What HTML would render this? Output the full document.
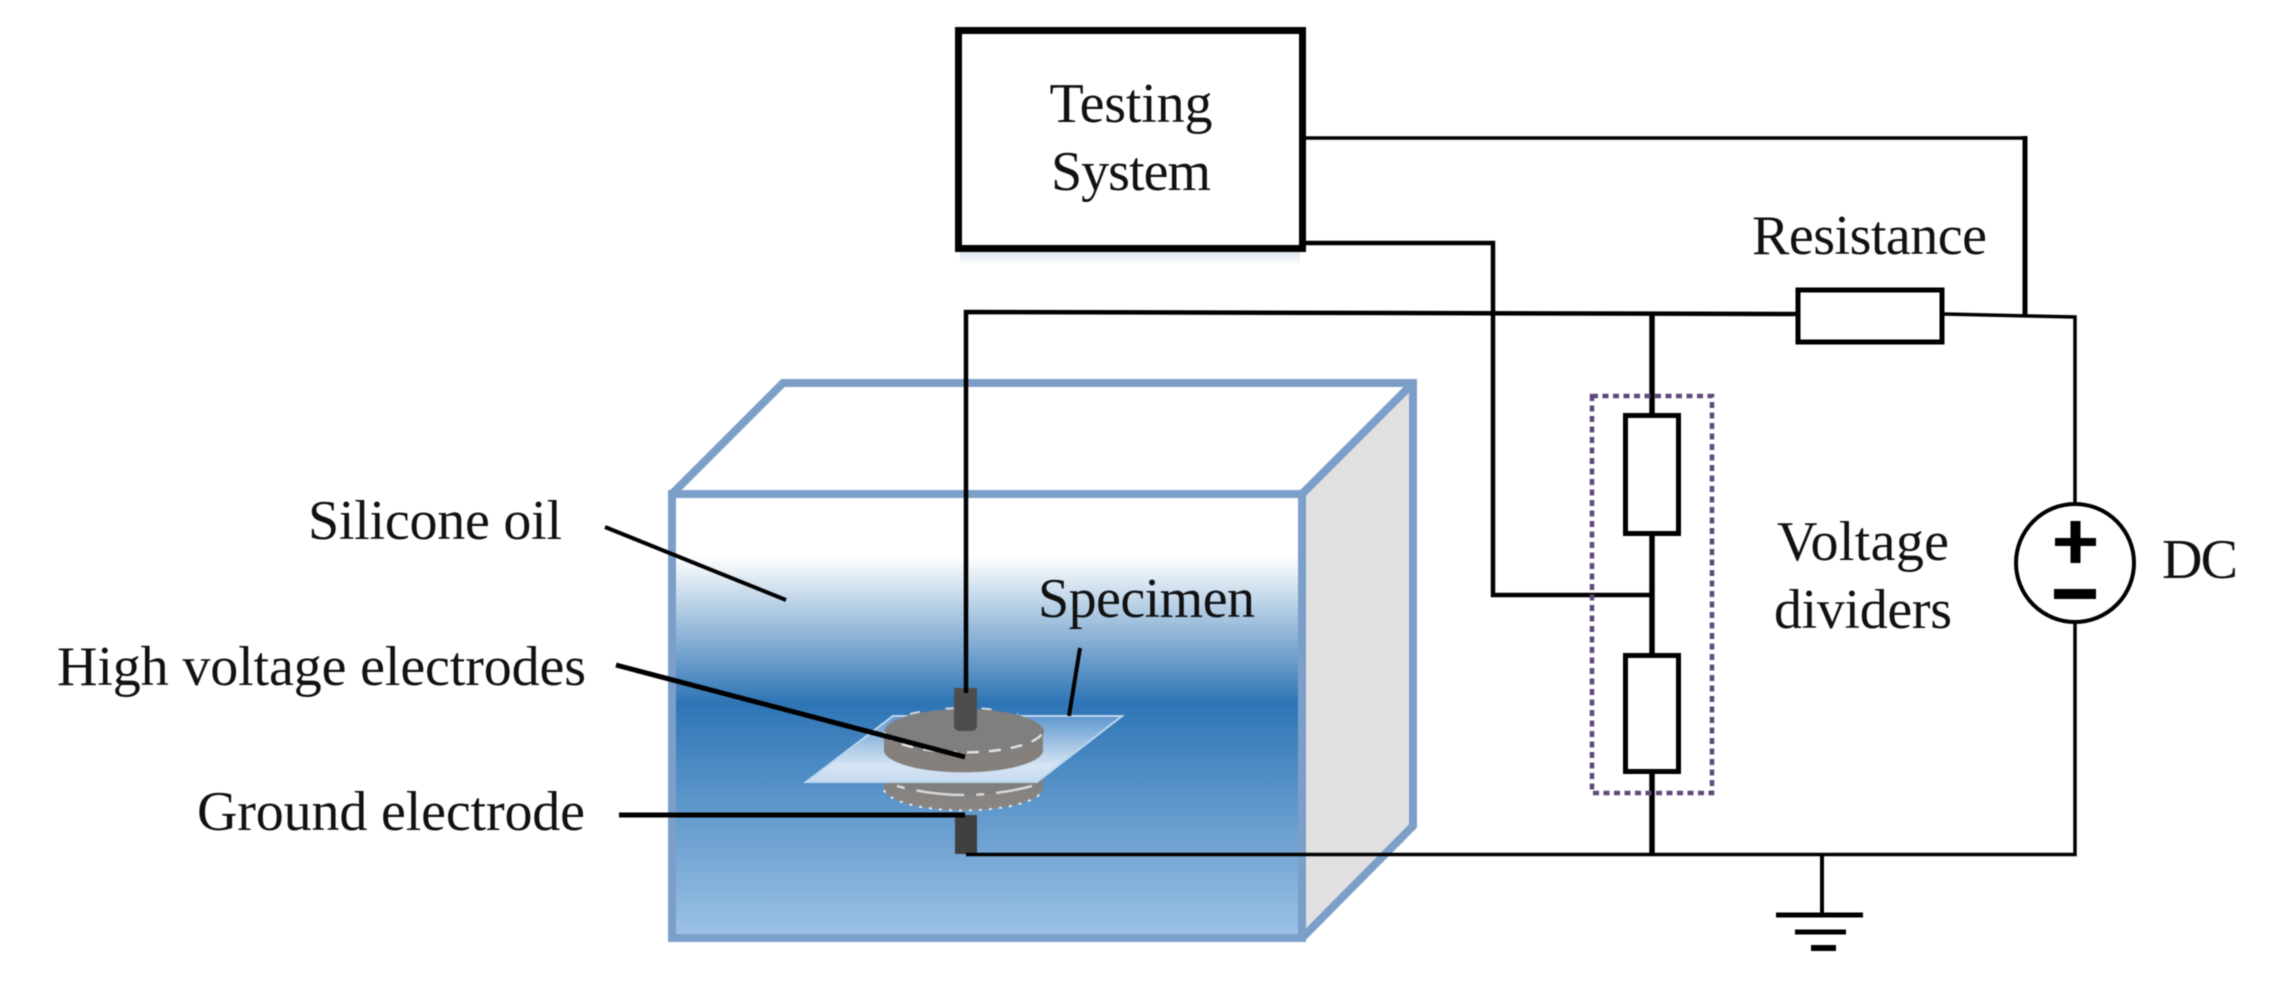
<!DOCTYPE html>
<html><head><meta charset="utf-8"><style>
html,body{margin:0;padding:0;background:#fff;width:2274px;height:988px;overflow:hidden}
svg{display:block;filter:blur(.6px)}
text{font-family:"Liberation Serif",serif;font-size:56px;fill:#111}
</style></head><body>
<svg width="2274" height="988" viewBox="0 0 2274 988" xmlns="http://www.w3.org/2000/svg">
<defs>
<linearGradient id="oil" x1="0" y1="0" x2="0" y2="1">
<stop offset="0" stop-color="#fff"/><stop offset=".14" stop-color="#fff"/>
<stop offset=".47" stop-color="#2e75b6"/><stop offset="1" stop-color="#9dc3e6"/>
</linearGradient>
<linearGradient id="spec" x1="0" y1="0" x2="0" y2="1">
<stop offset="0" stop-color="#5f98cf"/><stop offset=".75" stop-color="#d6e5f4"/><stop offset="1" stop-color="#c5daee"/>
</linearGradient>
<linearGradient id="shadow" x1="0" y1="0" x2="0" y2="1">
<stop offset="0" stop-color="#dbe6f2"/><stop offset="1" stop-color="#fff"/>
</linearGradient>
<linearGradient id="lid" x1="0" y1="0" x2="0" y2="1">
<stop offset="0" stop-color="#7f7f7f"/><stop offset="1" stop-color="#8b8682"/>
</linearGradient>
</defs>

<!-- tank -->
<polygon points="1302,494 1413,383 1413,826 1302,938" fill="#e1e1e1"/>
<rect x="672" y="494" width="630" height="444" fill="url(#oil)"/>
<g fill="none" stroke="#7c9fc9" stroke-width="8">
<rect x="672" y="494" width="630" height="444"/>
<polyline points="672,494 783,383 1413,383 1413,826 1302,938"/>
<line x1="1302" y1="494" x2="1413" y2="383"/>
</g>

<!-- bottom electrode -->
<path d="M884,772 V790 A80,23 0 0 0 1043,790 V772 Z" fill="url(#lid)"/>
<ellipse cx="964" cy="772" rx="80" ry="23" fill="#7f7f7f"/>
<path d="M884,790 A80,23 0 0 0 1043,790" fill="none" stroke="#e8e8e8" stroke-width="2" stroke-dasharray="3 7"/>
<path d="M897,786 Q964,804 1032,786" fill="none" stroke="#d8d8d8" stroke-width="2.5" stroke-dasharray="8 12 48 12"/>

<!-- specimen -->
<polygon points="893,716 1122,716 1037,782 806,782" fill="url(#spec)" stroke="#bdd7ee" stroke-width="2"/>

<!-- top electrode -->
<path d="M884,732 V752 A80,23 0 0 0 1043,752 V732 Z" fill="#85807c"/>
<ellipse cx="964" cy="732" rx="80" ry="23" fill="#7f7f7f"/>
<path d="M884,732 A80,23 0 0 0 1043,732" fill="none" stroke="#e0e0e0" stroke-width="2.5" stroke-dasharray="12 10"/>
<path d="M910,714 A80,23 0 0 1 1018,714" fill="none" stroke="#d8d8d8" stroke-width="2" stroke-dasharray="10 26"/>

<!-- rods -->
<path d="M954,688 H977 V725 Q977,731 971,731 H960 Q954,731 954,725 Z" fill="#4d4d4d"/>
<rect x="955" y="815" width="22" height="39" fill="#404040"/>

<!-- testing box -->
<rect x="960" y="252" width="340" height="13" fill="url(#shadow)"/>
<rect x="958.5" y="30.5" width="344" height="218" fill="#fff" stroke="#000" stroke-width="7"/>

<!-- wires -->
<g fill="none" stroke="#000" stroke-linejoin="miter">
<polyline points="966,693 966,312 1796,314" stroke-width="4.5"/>
<polyline points="1306,138 2025,138" stroke-width="3.5"/>
<line x1="2025" y1="136" x2="2025" y2="317" stroke-width="5"/>
<polyline points="1306,243 1493,243 1493,595 1652,595" stroke-width="4.5"/>
<polyline points="1944,314 2075,317 2075,505" stroke-width="3.5"/>
<polyline points="2075,621 2075,854.5 966,854.5" stroke-width="3.5"/>
<line x1="1652" y1="314" x2="1652" y2="856" stroke-width="5.5"/>
<line x1="1822" y1="854" x2="1822" y2="915" stroke-width="4"/>
<!-- leaders -->
<line x1="605" y1="527" x2="786" y2="600" stroke-width="4"/>
<line x1="616" y1="665" x2="965" y2="757" stroke-width="5"/>
<line x1="619" y1="815" x2="965" y2="815" stroke-width="5"/>
<line x1="1069" y1="716" x2="1080" y2="648" stroke-width="4"/>
</g>

<!-- ground bars -->
<rect x="1776" y="912.5" width="87" height="5"/>
<rect x="1795" y="929.5" width="51" height="5"/>
<rect x="1811" y="945" width="25" height="6"/>

<!-- resistors -->
<rect x="1798" y="290" width="144" height="52" fill="#fff" stroke="#000" stroke-width="5"/>
<rect x="1625.5" y="415.5" width="53" height="118" fill="#fff" stroke="#000" stroke-width="5"/>
<rect x="1625.5" y="655.5" width="53" height="116" fill="#fff" stroke="#000" stroke-width="5"/>

<!-- dashed -->
<rect x="1592" y="396" width="120" height="397" fill="none" stroke="#5f497a" stroke-width="4.5" stroke-dasharray="6 4.5"/>

<!-- DC source -->
<circle cx="2075" cy="563" r="59" fill="#fff" stroke="#000" stroke-width="4"/>
<rect x="2055" y="538" width="41" height="8"/>
<rect x="2070.5" y="521" width="10" height="42"/>
<rect x="2054" y="589" width="42" height="10"/>

<!-- labels -->
<text x="1131" y="122" text-anchor="middle" textLength="163" lengthAdjust="spacing">Testing</text>
<text x="1131" y="190" text-anchor="middle" textLength="160" lengthAdjust="spacing">System</text>
<text x="1752" y="254" textLength="235" lengthAdjust="spacing">Resistance</text>
<text x="308" y="539" textLength="254" lengthAdjust="spacing">Silicone oil</text>
<text x="1038" y="617" textLength="217" lengthAdjust="spacing">Specimen</text>
<text x="57" y="685" textLength="529" lengthAdjust="spacing">High voltage electrodes</text>
<text x="197" y="830" textLength="388" lengthAdjust="spacing">Ground electrode</text>
<text x="1777" y="560" textLength="172" lengthAdjust="spacing">Voltage</text>
<text x="1774" y="628" textLength="178" lengthAdjust="spacing">dividers</text>
<text x="2162" y="578" textLength="76" lengthAdjust="spacing">DC</text>
</svg>
</body></html>
